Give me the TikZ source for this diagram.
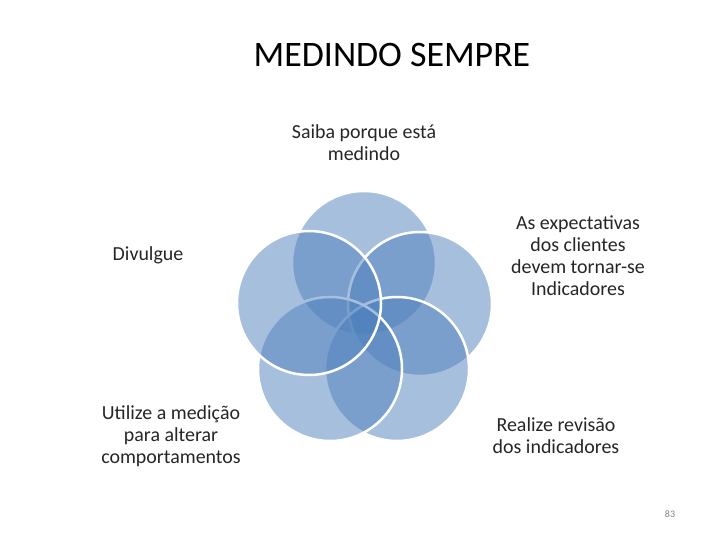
\documentclass[tikz,border=0pt]{standalone}
\usepackage{fontspec}
\setmainfont{Carlito}
\begin{document}
\begin{tikzpicture}[x=1bp,y=-1bp,
  circ/.style={fill={rgb,255:red,79;green,129;blue,189},fill opacity=0.5,draw=white,line width=2.5bp,draw opacity=1},
  lbl/.style={align=center,font=\fontsize{20}{22}\selectfont,text=black!85,inner sep=0pt}]
\useasboundingbox[fill=white] (0,0) rectangle (720,540);
\node (title) at (392,55) {\fontsize{36}{40}\selectfont MEDINDO SEMPRE};
\node[circ,circle,minimum size=144bp] (c1) at (364,263) {};
\node[circ,circle,minimum size=144bp] (c2) at (420,304) {};
\node[circ,circle,minimum size=144bp] (c3) at (397,369) {};
\node[circ,circle,minimum size=144bp] (c4) at (330,369) {};
\node[circ,circle,minimum size=144bp] (c5) at (309,303) {};
\node[lbl] (t1) at (364,143) {Saiba porque está\\medindo};
\node[lbl] (t2) at (578,256) {As expectativas\\dos clientes\\devem tornar-se\\Indicadores};
\node[lbl] (t3) at (556,436) {Realize revisão\\dos indicadores};
\node[lbl] (t4) at (171,436) {Utilize a medição\\para alterar\\comportamentos};
\node[lbl] (t5) at (148,255) {Divulgue};
\node (pg) at (670,514) {\fontsize{10}{12}\selectfont\color{gray}83};
\end{tikzpicture}
\end{document}
